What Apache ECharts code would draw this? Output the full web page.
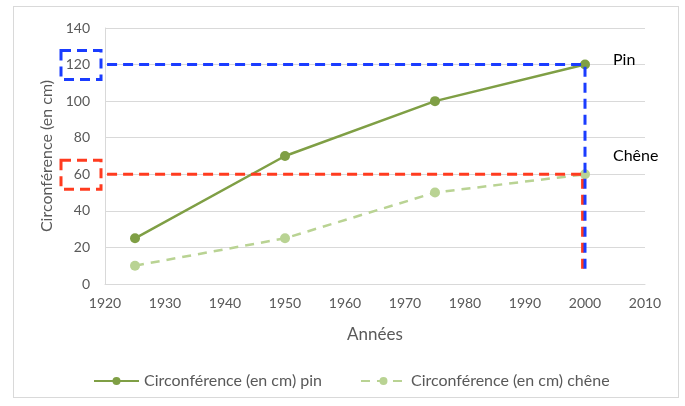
<!DOCTYPE html>
<html><head><meta charset="utf-8">
<script src="https://cdn.jsdelivr.net/npm/echarts@6/dist/echarts.min.js"></script>
<style>html,body{margin:0;padding:0;background:#fff}#c{width:685px;height:406px}
#frame{position:absolute;left:13px;top:6px;width:666px;height:392px;border:1px solid #d9d9d9;box-sizing:border-box;pointer-events:none}</style>
</head><body><div id="c"></div><div id="frame"></div>
<script>
const years = [1925, 1950, 1975, 2000];
const pin = [25, 70, 100, 120];
const chene = [10, 25, 50, 60];
const seriesNames = ['Circonférence (en cm) pin', 'Circonférence (en cm) chêne'];
const xTicks = {min: 1920, max: 2010, interval: 10};
const yTicks = {min: 0, max: 140, interval: 20};
// annotation guide paths (data space)
const blueGuide = [[1918.9, 116], [1918.9, 120], [2000, 120], [2000, 6]];
const redGuide = [[1918.9, 56], [1918.9, 60], [1999.6, 60], [1999.6, 6]];
const annotLabels = [{text: 'Pin', x: 2000, y: 120}, {text: 'Chêne', x: 2000, y: 60}];

const FONT = 'Lato';
const chart = echarts.init(document.getElementById('c'), null, {renderer: 'canvas'});
const pinColor = '#7f9f45';
const cheneColor = '#b9d393';
const option = {
  animation: false,
  textStyle: {fontFamily: FONT},
  grid: {left: 105, right: 40, top: 28, bottom: 122},
  xAxis: {
    type: 'value', min: xTicks.min, max: xTicks.max, interval: xTicks.interval,
    name: 'Années', nameLocation: 'middle', nameGap: 42,
    nameTextStyle: {color: '#595959', fontSize: 17, fontFamily: FONT},
    axisLine: {show: true, lineStyle: {color: '#d9d9d9', width: 1}},
    axisTick: {show: false},
    splitLine: {show: false},
    axisLabel: {color: '#595959', fontSize: 14, margin: 12, fontFamily: FONT, formatter: v => String(v)}
  },
  yAxis: {
    type: 'value', min: yTicks.min, max: yTicks.max, interval: yTicks.interval,
    name: 'Circonférence (en cm)', nameLocation: 'middle', nameGap: 50,
    nameTextStyle: {color: '#595959', fontSize: 16, fontFamily: FONT},
    axisLine: {show: true, lineStyle: {color: '#d9d9d9', width: 1}},
    axisTick: {show: false},
    splitLine: {show: true, lineStyle: {color: '#d9d9d9', width: 1}},
    axisLabel: {color: '#595959', fontSize: 14, margin: 15, fontFamily: FONT}
  },
  legend: {
    bottom: 12, left: 88, itemWidth: 45, itemHeight: 10, itemGap: 38,
    data: seriesNames,
    textStyle: {color: '#595959', fontSize: 16, fontFamily: FONT}
  },
  series: [
    {name: seriesNames[0], type: 'line', data: years.map((y, i) => [y, pin[i]]),
      symbol: 'circle', symbolSize: 10, z: 3,
      lineStyle: {color: pinColor, width: 2.5}, itemStyle: {color: pinColor}},
    {name: seriesNames[1], type: 'line', data: years.map((y, i) => [y, chene[i]]),
      symbol: 'circle', symbolSize: 10, z: 3,
      lineStyle: {color: cheneColor, width: 2.5, type: [9, 7]}, itemStyle: {color: cheneColor}},
    {name: 'blue', type: 'line', data: blueGuide, symbol: 'none', clip: false, z: 5, silent: true,
      lineStyle: {color: '#1a3cff', width: 3, type: [10, 6]}},
    {name: 'red', type: 'line', data: redGuide, symbol: 'none', clip: false, z: 4, silent: true,
      lineStyle: {color: '#ff3b1f', width: 3, type: [10, 6]}}
  ]
};
chart.setOption(option);
// decorations positioned from data coordinates
const p120 = chart.convertToPixel({gridIndex: 0}, [1920, 120]);
const p60 = chart.convertToPixel({gridIndex: 0}, [1920, 60]);
const gfx = [];
[[p120, '#1a3cff'], [p60, '#ff3b1f']].forEach(([p, c]) => {
  gfx.push({type: 'rect', shape: {x: p[0] - 44, y: p[1] - 14, width: 40, height: 29},
    style: {fill: 'none', stroke: c, lineWidth: 3, lineDash: [10, 6]}, z: 10});
});
annotLabels.forEach(a => {
  const p = chart.convertToPixel({gridIndex: 0}, [a.x, a.y]);
  gfx.push({type: 'text', x: p[0] + 28, y: p[1] - (a.text === 'Pin' ? 5 : 18),
    style: {text: a.text, fill: '#000', fontSize: 16, fontFamily: FONT, textVerticalAlign: 'middle'}, z: 10});
});
chart.setOption({graphic: gfx});
</script></body></html>
